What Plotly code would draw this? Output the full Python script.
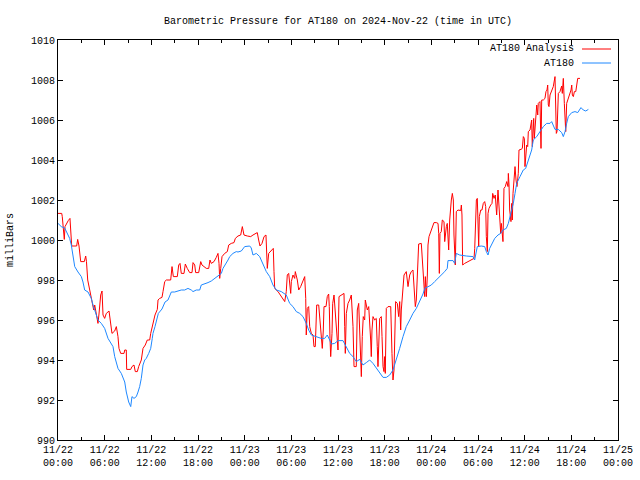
import datetime as dt
import plotly.graph_objects as go

# ---------------- data (hours since 2024-11-22 00:00 UTC, millibars) ----------------
obs_hours = [0.00, 0.42, 0.86, 1.07, 1.29, 1.50, 1.71, 1.93, 2.15, 2.57, 3.00, 3.21, 3.43, 3.86, 4.28,
             4.50, 4.92, 5.14, 5.57, 6.00, 6.43, 6.85, 7.07, 7.29, 7.50, 7.71, 8.14, 8.58, 8.78, 9.09,
             9.35, 9.51, 9.77, 10.07, 10.29, 10.50, 10.71, 10.93, 11.15, 11.35, 11.66, 11.92, 12.12,
             12.21, 12.47, 12.90, 13.37, 13.76, 14.14, 14.36, 14.57, 15.00, 15.43, 15.85, 16.29, 16.71,
             17.14, 17.36, 17.78, 18.22, 18.42, 18.86, 19.29, 19.71, 20.15, 20.57, 21.00, 21.21, 21.64,
             21.86, 22.08, 22.50, 22.92, 23.14, 23.57, 24.00, 24.65, 24.85, 25.07, 25.50, 25.93, 26.36,
             26.78, 27.22, 27.64, 28.07, 28.71, 29.35, 29.79, 30.21, 30.64, 31.08, 31.50, 31.92, 32.23,
             32.57, 33.21, 33.85, 34.29, 34.62, 34.93, 35.14, 35.57, 36.00, 36.64, 37.07, 37.50, 37.93,
             38.35, 38.79, 39.21, 39.64, 40.07, 40.50, 40.92, 41.36, 41.79, 42.21, 42.65, 43.07, 43.50,
             43.93, 44.36, 44.78, 45.22, 45.64, 46.07, 46.50, 46.93, 47.15, 47.57, 48.00, 48.43, 48.86,
             49.28, 49.72, 50.05, 50.14, 50.79, 51.00, 51.21, 51.64, 52.50, 53.36, 53.57, 53.91, 54.42,
             54.86, 55.07, 55.29, 55.50, 55.80, 56.15, 56.57, 56.92, 57.21, 57.64, 57.90, 58.24, 58.54,
             58.76, 58.97, 59.40, 59.82, 60.13, 60.47, 60.90, 61.11, 61.55, 61.97, 62.40, 62.83, 63.26,
             63.47, 63.68, 63.90, 64.32, 64.54, 64.76, 64.97, 65.19, 65.40, 65.61, 66.05, 66.47, 66.82,
             67.24, 67.54, 67.85, 68.19]
obs_mb = [1000.83, 1000.67, 1000.60, 1000.40, 1000.25, 1000.08, 999.75, 999.25, 998.67, 998.40, 998.17,
          997.90, 997.50, 997.40, 997.08, 996.75, 996.25, 996.00, 995.83, 995.58, 995.08, 994.83, 994.67,
          994.17, 993.90, 993.58, 993.33, 992.90, 992.40, 991.90, 991.67, 992.17, 992.08, 992.17, 992.40,
          992.67, 993.08, 993.75, 994.00, 994.08, 994.33, 994.58, 995.08, 995.33, 995.67, 996.33, 996.55,
          996.90, 997.00, 997.25, 997.40, 997.40, 997.47, 997.50, 997.50, 997.58, 997.50, 997.42, 997.50,
          997.50, 997.75, 997.80, 997.87, 997.95, 998.08, 998.25, 998.33, 998.58, 998.83, 999.00, 999.17,
          999.33, 999.42, 999.40, 999.45, 999.67, 999.70, 999.60, 999.25, 999.33, 999.17, 998.83, 998.42,
          998.17, 997.75, 997.50, 997.42, 997.25, 996.83, 996.67, 996.42, 996.33, 996.17, 995.83, 995.50,
          995.25, 995.17, 995.08, 995.08, 995.25, 995.00, 994.80, 994.83, 994.97, 994.97, 994.67, 994.33,
          994.17, 993.92, 994.03, 993.75, 993.87, 994.00, 993.83, 993.58, 993.33, 993.13, 993.13, 993.25,
          993.50, 994.00, 994.58, 995.17, 995.67, 996.00, 996.33, 996.58, 996.92, 997.30, 997.58, 997.67,
          997.75, 997.92, 998.08, 998.25, 998.42, 998.58, 998.97, 998.97, 998.83, 999.33, 999.25, 999.20,
          999.17, 999.00, 999.67, 999.70, 999.67, 999.42, 999.25, 999.58, 999.83, 1000.08, 1000.25,
          1000.33, 1000.50, 1000.58, 1000.83, 1001.33, 1001.83, 1002.33, 1002.83, 1003.17, 1003.50,
          1003.58, 1004.00, 1004.50, 1005.00, 1005.17, 1005.42, 1005.67, 1005.83, 1005.83, 1005.92,
          1005.75, 1005.53, 1005.53, 1005.42, 1005.37, 1005.17, 1005.42, 1005.83, 1006.17, 1006.37,
          1006.42, 1006.37, 1006.62, 1006.50, 1006.45, 1006.53]

analysis_hours = [0.00, 0.48, 0.55, 0.68, 0.81, 0.90, 1.12, 1.32, 1.54, 1.67, 1.76, 2.40, 2.53, 2.70, 2.92,
                  3.38, 3.56, 3.66, 3.82, 4.08, 4.33, 4.59, 4.72, 4.92, 5.14, 5.27, 5.49, 5.66, 5.79, 6.00,
                  6.21, 6.56, 6.78, 6.94, 7.29, 7.50, 7.71, 7.84, 8.06, 8.49, 8.58, 8.78, 8.83, 9.35, 9.51,
                  9.77, 9.94, 10.20, 10.37, 10.71, 10.93, 11.22, 11.48, 11.79, 11.92, 12.12, 12.21, 12.47,
                  12.77, 12.86, 13.07, 13.37, 13.50, 13.72, 13.93, 14.49, 14.66, 14.83, 15.34, 15.52, 15.69,
                  15.85, 16.20, 16.37, 16.62, 16.93, 17.23, 17.36, 17.58, 17.70, 18.09, 18.35, 18.51, 18.77,
                  19.07, 19.38, 19.54, 19.71, 20.06, 20.35, 20.57, 20.70, 20.79, 20.92, 21.09, 21.43, 21.77,
                  21.95, 22.28, 22.63, 22.80, 23.14, 23.49, 23.70, 23.91, 24.34, 24.78, 25.07, 25.37, 25.62,
                  25.80, 25.97, 26.23, 26.49, 26.74, 26.91, 27.09, 27.42, 27.68, 27.77, 27.86, 28.29, 28.71,
                  29.15, 29.35, 29.48, 29.66, 29.79, 29.92, 30.00, 30.21, 30.43, 30.51, 30.77, 30.95, 31.20,
                  31.37, 31.54, 31.72, 31.85, 31.92, 32.05, 32.23, 32.36, 32.57, 32.79, 32.91, 33.08, 33.26,
                  33.52, 33.64, 33.85, 33.98, 34.11, 34.20, 34.46, 34.62, 34.80, 34.88, 34.97, 35.06, 35.23,
                  35.32, 35.49, 35.65, 35.78, 36.00, 36.13, 36.42, 36.77, 36.86, 36.94, 37.07, 37.29, 37.50,
                  37.71, 37.93, 38.06, 38.35, 38.48, 38.66, 38.79, 39.00, 39.12, 39.25, 39.43, 39.51, 39.77,
                  39.95, 40.20, 40.28, 40.37, 40.50, 40.71, 40.92, 41.05, 41.14, 41.36, 41.57, 41.66, 41.79,
                  41.91, 42.00, 42.08, 42.21, 42.43, 42.78, 42.94, 43.07, 43.20, 43.29, 43.41, 43.63, 43.80,
                  43.93, 44.06, 44.14, 44.36, 44.49, 44.78, 45.00, 45.22, 45.42, 45.64, 45.94, 46.07, 46.20,
                  46.37, 46.71, 46.80, 46.93, 47.06, 47.15, 47.23, 47.36, 47.49, 47.57, 47.70, 47.92, 48.09,
                  48.34, 48.64, 48.86, 48.95, 49.03, 49.11, 49.28, 49.41, 49.63, 49.72, 49.80, 49.93, 50.05,
                  50.23, 50.36, 50.49, 50.57, 50.70, 50.83, 50.91, 51.08, 51.21, 51.43, 51.78, 51.86, 51.94,
                  52.03, 52.29, 52.71, 53.14, 53.49, 53.58, 53.66, 53.79, 53.91, 54.00, 54.09, 54.17, 54.35,
                  54.51, 54.68, 54.86, 54.99, 55.07, 55.20, 55.29, 55.41, 55.63, 55.80, 55.89, 56.06, 56.22,
                  56.40, 56.57, 56.74, 56.92, 57.00, 57.21, 57.34, 57.51, 57.69, 57.86, 57.90, 57.99, 58.07,
                  58.15, 58.24, 58.33, 58.41, 58.50, 58.67, 58.76, 58.89, 59.01, 59.18, 59.27, 59.53, 59.70,
                  59.83, 59.96, 60.04, 60.13, 60.26, 60.39, 60.47, 60.69, 60.81, 60.90, 60.98, 61.16, 61.24,
                  61.42, 61.55, 61.68, 61.75, 61.97, 62.06, 62.10, 62.19, 62.40, 62.61, 62.74, 62.87, 62.96,
                  63.04, 63.13, 63.26, 63.47, 63.68, 63.90, 63.99, 64.07, 64.16, 64.33, 64.54, 64.76, 64.84,
                  64.97, 65.10, 65.19, 65.28, 65.40, 65.53, 65.70, 65.83, 65.96, 66.05, 66.13, 66.26, 66.39,
                  66.57, 66.69, 66.82, 67.11]
analysis_mb = [1001.33, 1001.33, 1001.17, 1000.67, 1000.03, 1000.67, 1000.87, 1000.97, 1001.08, 1000.33,
               999.70, 999.70, 1000.03, 999.70, 998.92, 998.92, 999.20, 998.92, 998.00, 997.50, 997.00,
               996.50, 996.75, 996.25, 995.83, 996.30, 997.25, 997.45, 996.25, 996.08, 996.33, 996.45,
               995.67, 995.33, 995.45, 995.67, 995.17, 994.58, 994.33, 994.33, 994.50, 994.50, 993.53,
               993.53, 993.67, 993.75, 993.42, 993.42, 993.67, 994.00, 994.58, 994.75, 995.00, 995.00,
               995.33, 995.67, 995.75, 996.25, 996.53, 997.00, 997.08, 997.13, 997.42, 997.92, 998.00,
               998.00, 998.67, 998.17, 998.17, 998.75, 998.83, 998.33, 998.33, 998.80, 998.58, 998.37,
               998.37, 998.87, 998.75, 998.37, 998.37, 998.92, 998.75, 998.67, 998.58, 998.58, 999.00,
               998.83, 998.92, 999.13, 999.33, 998.83, 998.08, 998.58, 999.17, 999.33, 999.42, 999.75,
               999.83, 999.87, 1000.08, 1000.20, 1000.25, 1000.67, 1000.25, 1000.20, 1000.17, 1000.25,
               1000.30, 1000.37, 1000.00, 999.70, 999.83, 1000.17, 1000.25, 998.58, 999.33, 999.50,
               999.58, 998.42, 997.58, 997.42, 997.17, 996.92, 997.42, 998.25, 998.33, 997.92, 997.33,
               997.92, 998.25, 998.08, 998.42, 998.00, 997.50, 997.67, 997.83, 998.08, 998.17, 997.08,
               995.25, 996.58, 996.67, 995.67, 995.33, 995.25, 994.67, 994.67, 996.75, 996.75, 996.17,
               995.50, 994.58, 995.50, 996.67, 996.67, 997.17, 997.30, 996.67, 995.08, 994.17, 995.33,
               996.83, 997.25, 996.42, 995.25, 994.50, 997.17, 997.25, 997.33, 995.67, 994.33, 996.33,
               996.83, 997.00, 997.25, 995.67, 993.67, 993.67, 996.50, 996.83, 995.17, 993.17, 995.17,
               996.17, 996.00, 997.00, 996.50, 996.67, 995.00, 994.17, 995.50, 996.17, 996.00, 996.08,
               994.67, 993.67, 996.08, 996.17, 995.17, 993.67, 993.42, 994.17, 993.33, 996.58, 996.67,
               996.67, 994.33, 993.00, 993.50, 995.17, 996.92, 996.83, 996.17, 996.92, 995.50, 996.50,
               998.00, 998.25, 998.42, 997.67, 998.25, 998.42, 998.50, 996.67, 997.00, 998.50, 999.80,
               999.83, 999.17, 998.17, 997.42, 997.17, 998.17, 997.17, 998.25, 999.75, 1000.17, 1000.42,
               1000.58, 1000.87, 1000.87, 1000.83, 1000.33, 998.33, 1000.33, 1000.42, 1001.00, 1000.92,
               999.92, 1000.33, 1000.67, 1000.83, 999.50, 1001.00, 1001.83, 1002.00, 1002.33, 1002.00,
               1000.25, 998.75, 1001.42, 1001.50, 1001.47, 1001.75, 1001.25, 998.75, 998.83, 998.92,
               999.00, 999.08, 999.58, 1000.83, 1002.00, 1002.08, 1000.42, 999.67, 1001.17, 1001.50,
               1001.50, 1001.83, 1001.92, 1001.67, 1000.17, 999.42, 1001.33, 1001.58, 1001.75, 1001.83,
               1002.33, 1002.08, 1002.25, 1001.25, 1002.50, 1001.33, 1000.33, 1000.83, 999.92, 1002.58,
               1002.67, 1002.92, 1002.67, 1003.33, 1002.75, 1001.50, 1000.92, 1000.92, 1001.83, 1001.00,
               1002.33, 1003.08, 1003.67, 1003.00, 1002.67, 1003.33, 1004.50, 1004.53, 1004.58, 1005.17,
               1005.08, 1003.67, 1004.08, 1004.75, 1004.67, 1005.42, 1005.50, 1005.92, 1006.00, 1004.67,
               1006.08, 1005.08, 1006.42, 1006.75, 1006.25, 1006.83, 1006.92, 1005.83, 1004.58, 1007.00,
               1007.00, 1007.08, 1007.42, 1007.50, 1007.75, 1006.75, 1006.67, 1007.25, 1007.50, 1007.67,
               1008.17, 1006.50, 1005.33, 1005.42, 1007.33, 1007.42, 1007.70, 1007.33, 1008.08, 1006.83,
               1006.00, 1005.42, 1006.83, 1007.00, 1007.25, 1007.33, 1007.50, 1007.75, 1007.25, 1007.17,
               1007.42, 1007.42, 1007.75, 1008.08, 1008.08]

y_ticks = [990, 992, 994, 996, 998, 1000, 1002, 1004, 1006, 1008, 1010]
x_tick_hours = list(range(0, 73, 6))

title_text = "Barometric Pressure for AT180 on 2024-Nov-22 (time in UTC)"
series_names = ["AT180 Analysis", "AT180"]
series_colors = ["#ff0000", "#1e88ff"]

# ---------------- build ----------------
start = dt.datetime(2024, 11, 22, 0, 0)
to_time = lambda hrs: [start + dt.timedelta(hours=h) for h in hrs]

FONT = "Liberation Mono, DejaVu Sans Mono, monospace"
BLACK = "#000000"

fig = go.Figure()
fig.add_trace(go.Scatter(x=to_time(analysis_hours), y=analysis_mb, mode="lines",
                         name=series_names[0], line=dict(color=series_colors[0], width=1)))
fig.add_trace(go.Scatter(x=to_time(obs_hours), y=obs_mb, mode="lines",
                         name=series_names[1], line=dict(color=series_colors[1], width=1)))

tick_times = to_time(x_tick_hours)
tick_text = [t.strftime("%m/%d") + "<br>" + t.strftime("%H:%M") for t in tick_times]

L, R, T, B = 58, 22, 40, 40
W, H = 640, 480
pw = W - L - R

fig.update_layout(
    template="none",
    width=W, height=H,
    margin=dict(l=L, r=R, t=T, b=B, autoexpand=False),
    paper_bgcolor="white", plot_bgcolor="white",
    showlegend=False,
    font=dict(family=FONT, size=10, color=BLACK),
    title=dict(text=title_text, x=0.5, xanchor="center", xref="paper",
               y=1 - 20 / H, yref="container", yanchor="middle", automargin=False,
               font=dict(family=FONT, size=10, color=BLACK)),
    xaxis=dict(range=[tick_times[0], tick_times[-1]], tickmode="array",
               tickvals=tick_times, ticktext=tick_text, automargin=False,
               showgrid=False, zeroline=False, showline=True, linecolor=BLACK, linewidth=1,
               mirror="ticks", ticks="inside", ticklen=5, tickcolor=BLACK, tickwidth=1,
               minor=dict(ticks="inside", ticklen=3, tickcolor=BLACK, tickwidth=1,
                          tickmode="linear", tick0=start, dtick=3 * 3600 * 1000, showgrid=False),
               tickfont=dict(family=FONT, size=10, color=BLACK)),
    yaxis=dict(range=[990, 1010], tickmode="array", tickvals=y_ticks,
               ticktext=[str(v) for v in y_ticks], automargin=False,
               showgrid=False, zeroline=False, showline=True, linecolor=BLACK, linewidth=1,
               mirror="ticks", ticks="inside", ticklen=5, tickcolor=BLACK, tickwidth=1,
               tickfont=dict(family=FONT, size=10, color=BLACK)),
)

# y axis label
fig.add_annotation(text="milliBars", textangle=-90, xref="paper", yref="paper",
                   x=(10 - L) / pw, y=0.5, xanchor="center", yanchor="middle",
                   showarrow=False, font=dict(family=FONT, size=10, color=BLACK))

# gnuplot-style key (text right-aligned, sample line to the right)
ph = H - T - B
for i, (nm, col) in enumerate(zip(series_names, series_colors)):
    ypix = 49 + 14 * i
    yp = 1 - (ypix - T) / ph
    fig.add_annotation(text=nm, xref="paper", yref="paper", x=(576 - L) / pw, y=yp,
                       xanchor="right", yanchor="middle", showarrow=False,
                       font=dict(family=FONT, size=10, color=BLACK))
    fig.add_shape(type="line", xref="paper", yref="paper",
                  x0=(582 - L) / pw, x1=(611 - L) / pw, y0=yp, y1=yp,
                  line=dict(color=col, width=1))

fig.write_html("out.html", config={"displayModeBar": False, "staticPlot": True},
               post_script="document.body.style.margin='0';document.body.style.padding='0';")
